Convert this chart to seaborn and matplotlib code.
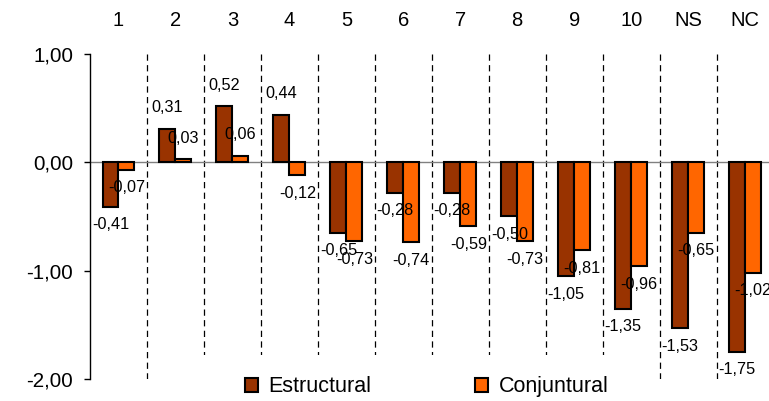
import matplotlib
matplotlib.use("Agg")
import matplotlib.pyplot as plt
from matplotlib.patches import Patch, Rectangle
import seaborn as sns
import pandas as pd

categorias = ["1", "2", "3", "4", "5", "6", "7", "8", "9", "10", "NS", "NC"]
estructural = [-0.41, 0.31, 0.52, 0.44, -0.65, -0.28, -0.28, -0.50, -1.05, -1.35, -1.53, -1.75]
conjuntural = [-0.07, 0.03, 0.06, -0.12, -0.73, -0.74, -0.59, -0.73, -0.81, -0.96, -0.65, -1.02]
series = ["Estructural", "Conjuntural"]
colores = ["#993300", "#FF6600"]
yticks = [1.0, 0.0, -1.0, -2.0]

df = pd.DataFrame({
    "cat": categorias * 2,
    "valor": estructural + conjuntural,
    "serie": [series[0]] * len(categorias) + [series[1]] * len(categorias),
})

sns.set_style("white")
plt.rcParams["font.family"] = ["Liberation Sans", "DejaVu Sans"]
plt.rcParams["text.color"] = "black"
plt.rcParams["xtick.color"] = "black"
plt.rcParams["ytick.color"] = "black"

fig = plt.figure(figsize=(7.69, 4.01), dpi=100)
ax = fig.add_axes([0.117, 0.0549, 0.889, 0.8105])

sns.barplot(data=df, x="cat", y="valor", hue="serie", order=categorias,
            hue_order=series, palette=colores, width=0.56, gap=0,
            edgecolor="black", linewidth=1.5, saturation=1, ax=ax,
            legend=False, zorder=3)

ax.set_xlim(-0.5, len(categorias) - 0.5)
ax.set_ylim(-2.0, 1.0)
ax.set_yticks(yticks)
ax.set_yticklabels([f"{v:.2f}".replace(".", ",") for v in yticks], fontsize=14.8)
ax.tick_params(axis="y", direction="out", length=4, width=1, color="black", pad=8, left=True)

ax.xaxis.tick_top()
ax.tick_params(axis="x", length=0, pad=17, labelsize=14.5)
ax.set_xlabel("")
ax.set_ylabel("")

for s in ["top", "right", "bottom"]:
    ax.spines[s].set_visible(False)
ax.spines["left"].set_color("black")
ax.spines["left"].set_linewidth(1)

ax.axhline(0, color="#808080", lw=1, zorder=2)
for i in range(len(categorias) - 1):
    ax.axvline(i + 0.5, color="black", lw=0.9, ls=(0, (5, 3.5)), zorder=1)

for cont, vals in zip(ax.containers, [estructural, conjuntural]):
    for bar, v in zip(cont, vals):
        xc = bar.get_x() + bar.get_width() / 2
        off = 15 if v >= 0 else -13
        ax.annotate(f"{v:.2f}".replace(".", ","), xy=(xc, v), xytext=(0, off),
                    textcoords="offset points", ha="center", va="center",
                    fontsize=11.7, zorder=5)

# white band behind the legend hides the dividers
fig.add_artist(Rectangle((150 / 769, 0), 490 / 769, 46 / 401, transform=fig.transFigure,
                         facecolor="white", edgecolor="none", zorder=4))

handles = [Patch(facecolor=c, edgecolor="black", linewidth=1.5) for c in colores]
leg = fig.legend(handles, series, loc="center", bbox_to_anchor=(0.555, 0.035),
                 ncol=2, frameon=False, fontsize=15.5, handlelength=0.6,
                 handleheight=0.6, handletextpad=0.5, columnspacing=4.8)
leg.set_zorder(6)

fig.savefig("out.png", dpi=100)
